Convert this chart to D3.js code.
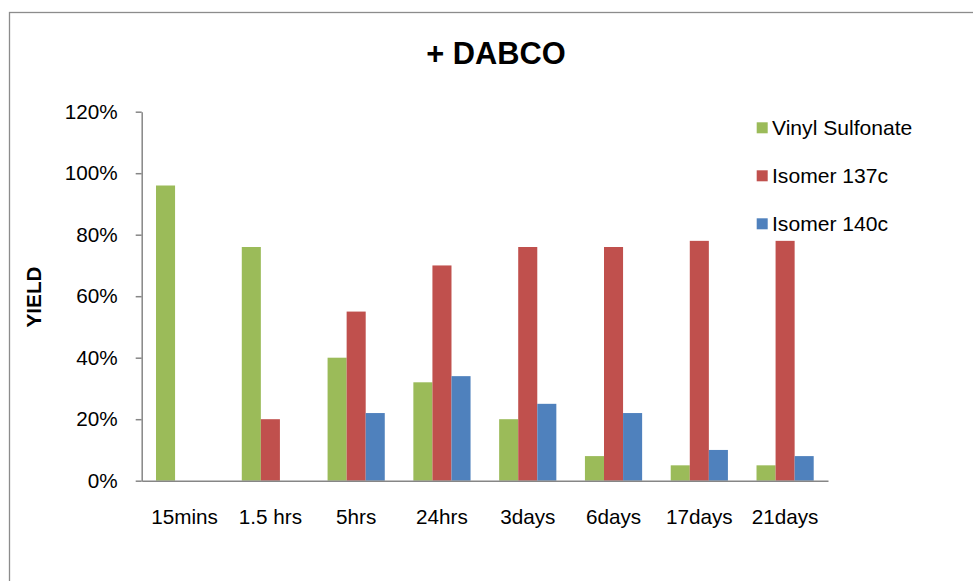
<!DOCTYPE html>
<html><head><meta charset="utf-8">
<script src="https://cdn.jsdelivr.net/npm/d3@7"></script>
<style>body{margin:0;background:#fff}svg{display:block;font-family:"Liberation Sans",Arial,sans-serif}</style>
</head><body>
<svg id="c" width="973" height="581"></svg>
<script>
const categories = ["15mins","1.5 hrs","5hrs","24hrs","3days","6days","17days","21days"];
const seriesNames = ["Vinyl Sulfonate","Isomer 137c","Isomer 140c"];
const vinylSulfonate = [96,76,40,32,20,8,5,5];
const isomer137c = [0,20,55,70,76,76,78,78];
const isomer140c = [0,0,22,34,25,22,10,8];
const yTicks = [0,20,40,60,80,100,120];
const colors = ["#9BBB59","#C0504D","#4F81BD"];

(function(){
const series = [vinylSulfonate, isomer137c, isomer140c];
const svg = d3.select("#c");
const pLeft = 141.7, pRight = 828, pTop = 111.7, pBottom = 480.7;

svg.append("rect").attr("x",9.5).attr("y",12.5).attr("width",1000).attr("height",1000)
  .attr("fill","none").attr("stroke","#8c8c8c").attr("stroke-width",1.3);

const x0 = d3.scaleBand().domain(categories).range([pLeft,pRight]).paddingInner(0).paddingOuter(0);
const bw = x0.bandwidth()/4.5;
const x1 = d3.scaleBand().domain(seriesNames).range([0, bw*3]);
const y = d3.scaleLinear().domain([0,120]).range([pBottom,pTop]);

// bars
const g = svg.append("g");
categories.forEach((c,i)=>{
  series.forEach((s,j)=>{
    if (s[i] > 0) {
      g.append("rect")
        .attr("x", x0(c) + x0.bandwidth()/2 - bw*1.5 + x1(seriesNames[j]))
        .attr("y", y(s[i])).attr("width", bw).attr("height", y(0)-y(s[i]))
        .attr("fill", colors[j]);
    }
  });
});

// y axis
const ya = svg.append("g").attr("transform",`translate(${pLeft},0)`)
  .call(d3.axisLeft(y).tickValues(yTicks).tickFormat(d=>d+"%").tickSize(6).tickPadding(18).tickSizeOuter(0));
ya.select(".domain").attr("stroke","#868686").attr("stroke-width",1.5);
ya.selectAll(".tick line").attr("stroke","#868686").attr("stroke-width",1.5);
ya.selectAll(".tick text").attr("font-size","20.7px").attr("fill","#000").attr("font-family","Liberation Sans, Arial, sans-serif");

// x axis
const xa = svg.append("g").attr("transform",`translate(0,${pBottom})`)
  .call(d3.axisBottom(x0).tickSize(0).tickPadding(29));
xa.select(".domain").attr("stroke","#868686").attr("stroke-width",1.5);
xa.selectAll(".tick text").attr("font-size","20.7px").attr("fill","#000").attr("font-family","Liberation Sans, Arial, sans-serif");

// title
svg.append("text").attr("x",496).attr("y",63.5).attr("text-anchor","middle")
  .attr("font-size","30.8px").attr("font-weight","bold").text("+ DABCO");

// y label
svg.append("text").attr("transform","translate(40.5,297) rotate(-90)").attr("text-anchor","middle")
  .attr("font-size","20.7px").attr("font-weight","bold").text("YIELD");

// legend
const lg = svg.append("g");
seriesNames.forEach((n,i)=>{
  const yy = 127.8 + i*48;
  lg.append("rect").attr("x",756.7).attr("y",yy-5.5).attr("width",11).attr("height",11).attr("fill",colors[i]);
  lg.append("text").attr("x",772).attr("y",yy+7.3).attr("font-size","21.1px").text(n);
});
})();
</script>
</body></html>
